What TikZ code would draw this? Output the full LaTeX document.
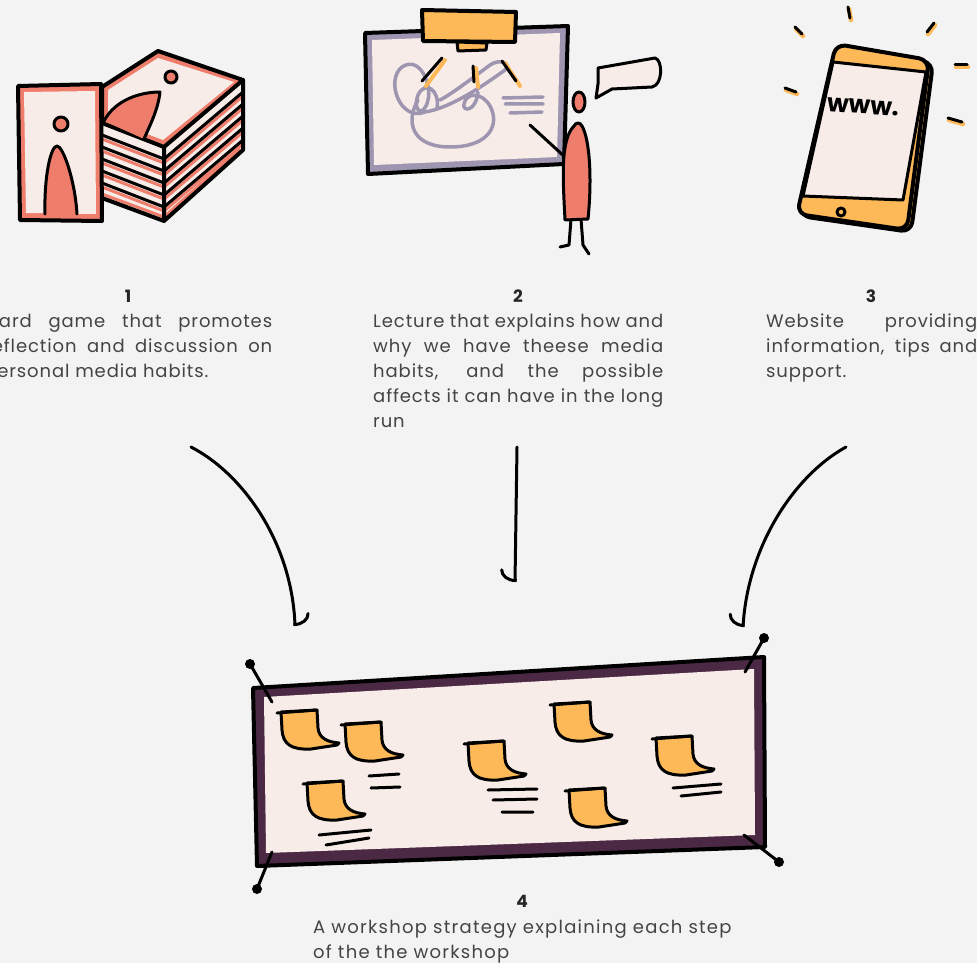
\documentclass[tikz,border=0pt]{standalone}
\usepackage{fontspec}
\setmainfont{Poppins}
\newfontfamily\descfont{Poppins}[LetterSpace=5]
\newfontfamily\widefont{Poppins}[LetterSpace=7]
\usetikzlibrary{arrows.meta}

\definecolor{bg}{HTML}{F2F3F2}
\definecolor{salmon}{HTML}{EF7D6C}
\definecolor{paper}{HTML}{F7ECE8}
\definecolor{amber}{HTML}{FDB858}
\definecolor{lilac}{HTML}{9E95B0}
\definecolor{plum}{HTML}{4B2944}
\definecolor{txt}{HTML}{444444}

\tikzset{
  ink/.style={draw=black, line width=4pt, line join=round, line cap=round},
  thin ink/.style={ink, line width=3pt},
  num/.style={anchor=base, text=black!85, font=\bfseries\fontsize{17}{20}\selectfont},
  desc/.style={anchor=base west, inner sep=0pt, text=txt, font=\descfont\fontsize{18}{25}\selectfont},
  flow/.style={line width=3pt, line cap=round},
  hook/.style={-{Arc Barb[harpoon, #1, length=12pt, width=30pt, line cap=round]}},
  hook/.default={},
  sticky/.pic={
    \filldraw[fill=amber, thin ink] (0,0) -- (36,-2) -- (37,16)
      .. controls (38,26) and (46,30) .. (58,31) -- (56,33) -- (30,37)
      .. controls (10,38) and (2,32) .. (1,18) -- cycle;
    \draw[thin ink] (-4,1) -- (36,-2);
  }
}
\newcommand{\justpar}[2]{\parbox[t]{#1}{\hyphenpenalty=10000\exhyphenpenalty=10000 #2}}

\begin{document}
\begin{tikzpicture}[x=1pt, y=-1pt, >=Stealth]
\fill[bg] (0,0) rectangle (977,963);
\useasboundingbox (0,0) rectangle (977,963);

% --- card game
\fill[paper] (102,123) -- (164,147) -- (243,80) -- (243,150) -- (164,221) -- (102,198) -- cycle;
\foreach \d in {12,24,36,48,60} {
  \draw[salmon, line width=3pt] (102,{123+\d+4}) -- (164,{147+\d+4}) -- (243,{80+\d+4});
  \draw[thin ink] (102,{123+\d}) -- (164,{147+\d}) -- (243,{80+\d});
}
\draw[salmon, line width=3pt] (102,194) -- (164,217) -- (240,149);
\draw[ink] (164,147) -- (164,221) (243,80) -- (243,150) (102,198) -- (164,221) -- (243,150);
\filldraw[fill=salmon, ink] (102,87) -- (158,51) -- (243,80) -- (164,147) -- (102,123) -- cycle;
\fill[paper] (108,90) -- (158,58) -- (234,82) -- (163,140) -- (108,119) -- cycle;
\fill[salmon] (104,121) .. controls (115,100) and (140,92) .. (160,92)
  .. controls (158,110) and (150,125) .. (144,139) -- cycle;
\draw[thin ink] (104,121) .. controls (115,100) and (140,92) .. (160,92)
  .. controls (158,110) and (150,125) .. (144,139);
\filldraw[fill=salmon, thin ink] (171,77) circle (6);
% front card
\filldraw[fill=salmon, ink] (18,86) -- (101,84) -- (102,221) -- (20,220) -- cycle;
\fill[paper] (24,92) -- (95,91) -- (96,214) -- (26,213) -- cycle;
\filldraw[fill=salmon, thin ink] (45,214) .. controls (44,175) and (51,146) .. (57,146)
  .. controls (63,146) and (75,180) .. (77,214);
\filldraw[fill=salmon, thin ink] (61,124) circle (7);

% --- lecture
\filldraw[fill=lilac, ink] (365,33) -- (568,26) -- (564,164) -- (368,174) -- cycle;
\fill[paper] (372,40) -- (560,33) -- (557,157) -- (374,165) -- cycle;
\begin{scope}[lilac, line width=3.5pt, line cap=round]
  \draw (425,112) .. controls (400,122) and (385,80) .. (402,67)
    .. controls (420,55) and (432,85) .. (428,100)
    .. controls (424,118) and (412,112) .. (418,95)
    .. controls (425,80) and (440,90) .. (437,108);
  \draw (425,112) .. controls (450,108) and (480,88) .. (505,70)
    .. controls (512,64) and (500,58) .. (490,65)
    .. controls (470,80) and (450,95) .. (440,100);
  \draw (418,100) .. controls (405,122) and (412,147) .. (450,147)
    .. controls (490,147) and (500,124) .. (490,106)
    .. controls (482,92) and (466,92) .. (464,104)
    .. controls (462,112) and (476,112) .. (478,92);
  \draw (503,98) -- (543,97) (505,104) -- (543,104) (510,113) -- (542,112);
\end{scope}
\foreach \a/\b/\c/\e in {442/58/423/84, 473/66/475/85, 502/61/517/84} {
  \draw[amber, line width=4pt, line cap=round] (\a+3,\b+2) -- (\c+3,\e+2);
  \draw[thin ink] (\a,\b) -- (\c-1,\e-3);
}
\filldraw[fill=amber, ink] (422,10) -- (516,12) -- (515,42) -- (423,41) -- cycle;
\filldraw[fill=amber, thin ink] (457,42) -- (487,43) -- (486,50) -- (458,51) -- cycle;
% presenter
\draw[thin ink] (530,125) -- (566,158);
\draw[thin ink] (571,219) -- (569,245) -- (560,247) (581,219) -- (583,245) -- (589,254);
\filldraw[fill=salmon, thin ink] (574,126) .. controls (560,140) and (563,180) .. (565,220)
  -- (588,219) .. controls (592,180) and (590,140) .. (582,126)
  .. controls (580,122) and (576,122) .. (574,126) -- cycle;
\filldraw[fill=salmon, thin ink] (579,102) ellipse (6 and 10);
\filldraw[fill=paper, thin ink] (598,68) -- (655,58) .. controls (663,60) and (663,85) .. (652,87)
  -- (612,89) -- (596,98) -- (598,84) -- cycle;

% --- website
\foreach \a/\b/\c/\e in {848/7/850/18, 795/27/802/34, 934/23/927/32, 955/65/967/65, 785/88/796/92, 948/118/962/122} {
  \draw[amber, line width=4.5pt, line cap=round] (\a+1,\b+2) -- (\c+1,\e+2);
  \draw[thin ink] (\a,\b) -- (\c,\e);
}
\filldraw[fill=amber, ink, rounded corners=10pt] (839,46) -- (933,63) -- (911,232) -- (800,216) -- cycle;
\filldraw[fill=amber, ink, rounded corners=10pt] (836,44) -- (929,60) -- (907,230) -- (797,214) -- cycle;
\filldraw[fill=paper, thin ink] (833,62) -- (926,72) -- (903,200) -- (803,196) -- cycle;
\draw[thin ink] (841,212) circle (4);
\node[rotate=-4, font=\bfseries\fontsize{25}{25}\selectfont] (www) at (863,107) {www.};

% --- workshop board
\filldraw[fill=plum, ink] (253,688) -- (764,657) -- (765,847) -- (257,866) -- cycle;
\fill[paper] (264,697) -- (754,669) -- (755,835) -- (266,853) -- cycle;
\foreach \p/\q in {250/664, 764/638, 257/889, 779/862} \fill (\p,\q) circle (5);
\draw[thin ink] (250,664) -- (272,702) (764,638) -- (745,672)
  (257,889) -- (272,852) (779,862) -- (744,835);
\foreach \p/\q in {281/712, 345/724, 307/783, 468/743, 554/704, 569/790, 656/738}
  \pic at (\p,\q) {sticky};
\draw[thin ink] (369,776) -- (399,774) (371,788) -- (400,787)
  (319,835) -- (371,830) (326,845) -- (369,838)
  (488,790) -- (537,789) (493,800) -- (537,799) (502,812) -- (533,812)
  (673,788) -- (721,784) (681,796) -- (721,792);

% --- captions
\node[num] (n1) at (128,302) {1};
\node[num] (n2) at (518,302) {2};
\node[num] (n3) at (871,302) {3};
\node[num] (n4) at (522,907) {4};
\node[desc] (t1) at (-16,327) {\justpar{288pt}{Card game that promotes\linebreak reflection and discussion on\linebreak personal media habits.}};
\node[desc] (t2) at (373,327) {\justpar{290pt}{Lecture that explains how and\linebreak why we have theese media\linebreak habits, and the possible\linebreak affects it can have in the long\linebreak run}};
\node[desc] (t3) at (766,327) {\justpar{211pt}{Website providing\linebreak information, tips and\linebreak support.}};
\node[desc, font=\widefont\fontsize{18}{25}\selectfont] (t4) at (313,933) {\parbox[t]{440pt}{\raggedright A workshop strategy explaining each step\\ of the the workshop}};

% --- connectors
\coordinate (s1) at (191,447);
\coordinate (s2) at (517,447);
\coordinate (s3) at (846,447);
\coordinate (e1) at (295,626);
\coordinate (e2) at (515,582);
\coordinate (e3) at (743,627);
\draw[flow, hook] (s1) .. controls (245,475) and (292,545) .. (e1);
\draw[flow, hook=swap] (s2) -- (e2);
\draw[flow, hook=swap] (s3) .. controls (795,475) and (748,545) .. (e3);
\end{tikzpicture}
\end{document}
